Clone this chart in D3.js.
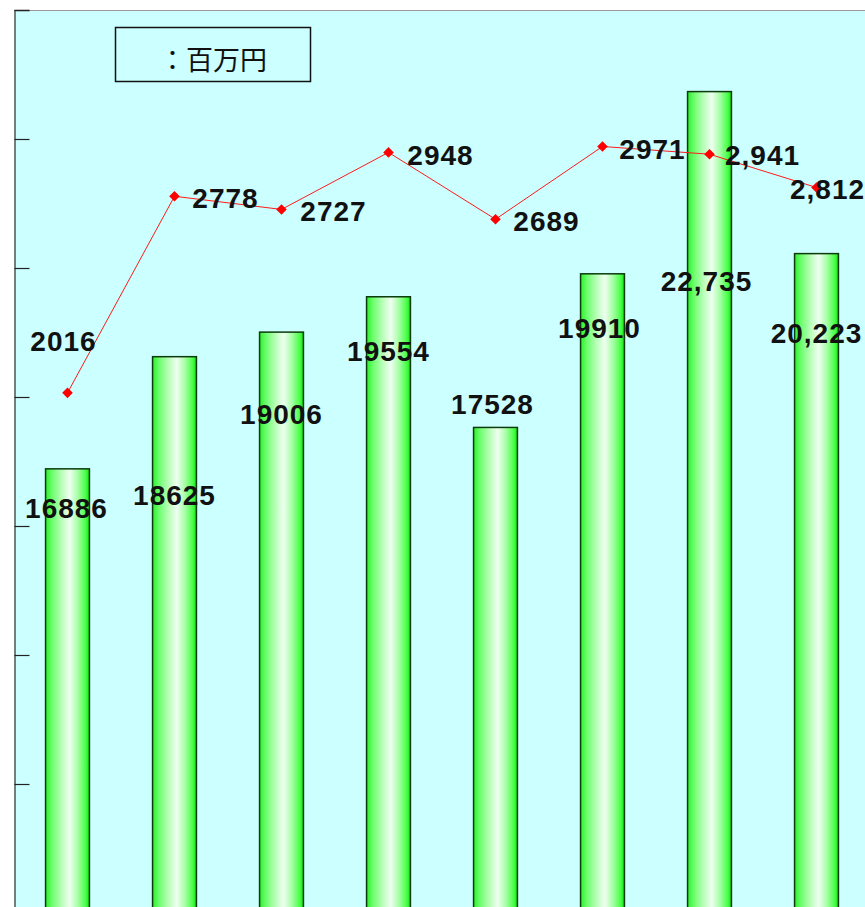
<!DOCTYPE html>
<html>
<head>
<meta charset="utf-8">
<script src="https://cdn.jsdelivr.net/npm/d3@7"></script>
<style>
  html, body { margin: 0; padding: 0; background: #ffffff; }
  svg { display: block; }
</style>
</head>
<body>
<div id="chart"></div>
<script>
// Categories (no axis labels shown in the picture)
var categories = ["1", "2", "3", "4", "5", "6", "7", "8"];

// Bar series (百万円) and line series
var barValues = [16886, 18625, 19006, 19554, 17528, 19910, 22735, 20223];
var lineValues = [2016, 2778, 2727, 2948, 2689, 2971, 2941, 2812];

// Last two values are written with a thousands separator
var useComma = [false, false, false, false, false, false, true, true];

// Axis ticks (left axis, no tick labels are drawn)
var barTicks = [12000, 14000, 16000, 18000, 20000, 22000, 24000];

var legendText = "：百万円";

(function () {
  var width = 865, height = 907;
  var plotLeft = 14, plotTop = 10, plotRight = 870, plotBottom = 913;

  // label nudges, in pixels, relative to bar top / line point
  var barLabelShift = [[-1, 49], [0, 148], [0, 92], [0, 64], [-3, -13], [-3, 64], [-3, 199], [0, 89]];
  var lineLabelShift = [[-4, -42], [51, 12], [52, 12], [52, 13], [51, 12], [50, 13], [53, 11], [11, 11]];

  var svg = d3.select("#chart").append("svg")
    .attr("width", width)
    .attr("height", height);

  // gradient for the cylinder-like bars
  var grad = svg.append("defs").append("linearGradient")
    .attr("id", "barGrad")
    .attr("x1", "0%").attr("x2", "100%").attr("y1", "0%").attr("y2", "0%");
  [[0, "#2cf02c"], [0.15, "#6dff6d"], [0.35, "#b4ffb4"], [0.55, "#effff0"],
   [0.75, "#a0ffa0"], [0.92, "#45ff45"], [1, "#14e014"]].forEach(function (s) {
    grad.append("stop").attr("offset", s[0]).attr("stop-color", s[1]);
  });

  // plot background
  svg.append("rect")
    .attr("x", plotLeft).attr("y", plotTop)
    .attr("width", plotRight - plotLeft).attr("height", plotBottom - plotTop)
    .attr("fill", "#ccffff");

  // top border
  svg.append("line")
    .attr("x1", plotLeft).attr("x2", width)
    .attr("y1", plotTop + 0.5).attr("y2", plotTop + 0.5)
    .attr("stroke", "#9a9a9a").attr("stroke-width", 1);

  var x = d3.scaleBand()
    .domain(categories)
    .range([plotLeft, plotRight])
    .paddingInner(0.59)
    .paddingOuter(0.295);

  var yBar = d3.scaleLinear()
    .domain([10000, 24000])
    .range([plotBottom, plotTop]);

  var yLine = d3.scaleLinear()
    .domain([0, 3500])
    .range([plotBottom, plotTop]);

  // left axis
  var yAxis = svg.append("g")
    .attr("transform", "translate(" + (plotLeft + 0.5) + ",0)")
    .call(d3.axisRight(yBar).tickValues(barTicks).tickSize(15).tickFormat(""));
  yAxis.select(".domain").attr("stroke", "#555555").attr("stroke-width", 1.5);
  yAxis.selectAll(".tick line").attr("stroke", "#222222").attr("stroke-width", 1.2);

  // bars
  svg.append("g").selectAll("rect")
    .data(barValues)
    .join("rect")
    .attr("x", function (d, i) { return x(categories[i]); })
    .attr("y", function (d) { return yBar(d); })
    .attr("width", x.bandwidth())
    .attr("height", function (d) { return yBar(10000) - yBar(d); })
    .attr("fill", "url(#barGrad)")
    .attr("stroke", "#0b3a0b")
    .attr("stroke-width", 1.5);

  var cx = function (i) { return x(categories[i]) + x.bandwidth() / 2; };

  // line
  var line = d3.line()
    .x(function (d, i) { return cx(i); })
    .y(function (d) { return yLine(d); });

  svg.append("path")
    .datum(lineValues)
    .attr("d", line)
    .attr("fill", "none")
    .attr("stroke", "#ff1a1a")
    .attr("stroke-width", 1);

  // diamond markers
  svg.append("g").selectAll("path")
    .data(lineValues)
    .join("path")
    .attr("d", d3.symbol().type(d3.symbolSquare).size(56))
    .attr("transform", function (d, i) {
      return "translate(" + cx(i) + "," + yLine(d) + ") rotate(45)";
    })
    .attr("fill", "#ff0000");

  var fmt = function (v, i) { return useComma[i] ? d3.format(",")(v) : String(v); };

  var labelStyle = function (sel) {
    sel.attr("text-anchor", "middle")
      .attr("font-family", "'Liberation Sans', Arial, sans-serif")
      .attr("font-weight", "bold")
      .attr("font-size", 28)
      .attr("letter-spacing", 1)
      .attr("fill", "#111111");
  };

  // bar value labels
  svg.append("g").selectAll("text")
    .data(barValues)
    .join("text")
    .attr("x", function (d, i) { return cx(i) + barLabelShift[i][0]; })
    .attr("y", function (d, i) { return yBar(d) + barLabelShift[i][1]; })
    .call(labelStyle)
    .text(fmt);

  // line value labels
  svg.append("g").selectAll("text")
    .data(lineValues)
    .join("text")
    .attr("x", function (d, i) { return cx(i) + lineLabelShift[i][0]; })
    .attr("y", function (d, i) { return yLine(d) + lineLabelShift[i][1]; })
    .call(labelStyle)
    .text(fmt);

  // unit legend box
  svg.append("rect")
    .attr("x", 115.5).attr("y", 27.5)
    .attr("width", 195).attr("height", 54)
    .attr("fill", "none")
    .attr("stroke", "#111111")
    .attr("stroke-width", 1.5);

  svg.append("text")
    .attr("x", 159).attr("y", 70)
    .attr("font-family", "'Noto Sans CJK JP', sans-serif")
    .attr("font-size", 27)
    .attr("fill", "#111111")
    .text(legendText);
})();
</script>
</body>
</html>
